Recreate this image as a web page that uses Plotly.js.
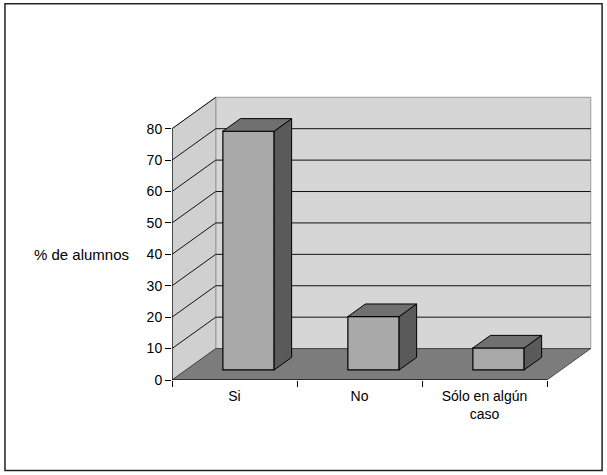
<!DOCTYPE html>
<html>
<head>
<meta charset="utf-8">
<script src="https://cdn.plot.ly/plotly-3.0.1.min.js"></script>
<style>
html,body{margin:0;padding:0;background:#fff;}
#chart{width:607px;height:475px;}
</style>
</head>
<body>
<div id="chart"></div>
<script>
// ---- data ----
var categories = ["Si", "No", "Sólo en algún<br>caso"];
var values = [76, 17, 7];
var yTicks = [0, 10, 20, 30, 40, 50, 60, 70, 80];
var yTitle = "% de alumnos";

// ---- 3D oblique geometry (in data units) ----
var DX = 0.35, DY = 10;       // depth offset of back wall
var YMAX = 80;
var D0 = 0.32, D1 = 0.72;     // bar depth span (fraction)
var HALF = 0.205;             // half bar width

var FONT = "Liberation Sans, Arial, sans-serif";
var n = categories.length;
var shapes = [];

// back wall
shapes.push({type:"rect", xref:"x", yref:"y", x0:DX, x1:n+DX, y0:DY, y1:YMAX+DY,
  fillcolor:"#d6d6d6", line:{color:"#8a8a8a", width:0.8}, layer:"below"});
// side wall
shapes.push({type:"path", xref:"x", yref:"y",
  path:"M0,0 L0,"+YMAX+" L"+DX+","+(YMAX+DY)+" L"+DX+","+DY+" Z",
  fillcolor:"#d0d0d0", line:{color:"#8a8a8a", width:0.8}, layer:"below"});
// floor
shapes.push({type:"path", xref:"x", yref:"y",
  path:"M0,0 L"+n+",0 L"+(n+DX)+","+DY+" L"+DX+","+DY+" Z",
  fillcolor:"#7c7c7c", line:{color:"#333", width:0.8}, layer:"below"});
// gridlines
yTicks.forEach(function(v){
  if (v > 0 && v < YMAX) {
    shapes.push({type:"line", xref:"x", yref:"y", x0:DX, x1:n+DX, y0:v+DY, y1:v+DY,
      line:{color:"#111", width:1}, layer:"below"});
  }
  if (v > 0) {
    shapes.push({type:"line", xref:"x", yref:"y", x0:0, x1:DX, y0:v, y1:v+DY,
      line:{color:"#111", width:1}, layer:"below"});
  }
});
// front axis lines
shapes.push({type:"line", xref:"x", yref:"y", x0:0, x1:0, y0:0, y1:YMAX, line:{color:"#000", width:1.2}});
shapes.push({type:"line", xref:"x", yref:"y", x0:0, x1:n, y0:0, y1:0, line:{color:"#000", width:1.2}});
// outer border
shapes.push({type:"rect", xref:"paper", yref:"paper", x0:-0.393, x1:1.012, y0:-0.313, y1:1.302,
  line:{color:"#222", width:1.5}, fillcolor:"rgba(0,0,0,0)"});

// ---- bar traces ----
var traces = [];
values.forEach(function(v, i){
  var c = i + 0.5;
  var xl = c - HALF, xr = c + HALF;
  // side face
  traces.push({type:"scatter", mode:"lines", fill:"toself", fillcolor:"#5a5a5a",
    line:{color:"#000", width:1}, hoverinfo:"skip", showlegend:false,
    x:[xr+D0*DX, xr+D1*DX, xr+D1*DX, xr+D0*DX, xr+D0*DX],
    y:[D0*DY, D1*DY, D1*DY+v, D0*DY+v, D0*DY]});
  // top face
  traces.push({type:"scatter", mode:"lines", fill:"toself", fillcolor:"#707070",
    line:{color:"#000", width:1}, hoverinfo:"skip", showlegend:false,
    x:[xl+D0*DX, xr+D0*DX, xr+D1*DX, xl+D1*DX, xl+D0*DX],
    y:[D0*DY+v, D0*DY+v, D1*DY+v, D1*DY+v, D0*DY+v]});
});
// front faces as a real bar trace
traces.push({type:"bar", x:values.map(function(v,i){return i+0.5+D0*DX;}),
  y:values, base:values.map(function(){return D0*DY;}), width:2*HALF,
  marker:{color:"#a9a9a9", line:{color:"#000", width:1.2}},
  hoverinfo:"skip", showlegend:false});
// invisible trace to carry category tick labels on xaxis
traces.push({type:"scatter", mode:"markers", x:categories.map(function(c,i){return i+0.5;}),
  y:categories.map(function(){return 0;}), marker:{opacity:0}, hoverinfo:"skip", showlegend:false});

var layout = {
  width:607, height:475,
  margin:{l:172, r:10, t:91, b:95},
  paper_bgcolor:"#fff", plot_bgcolor:"rgba(0,0,0,0)",
  showlegend:false,
  font:{family:FONT, size:14, color:"#000"},
  xaxis:{range:[0, 3.4], tickvals:categories.map(function(c,i){return i+0.5;}),
    ticktext:categories, ticks:"", showgrid:false, zeroline:false, showline:false,
    ticklabelstandoff:6,
    tickfont:{family:FONT, size:14}, fixedrange:true},
  xaxis2:{range:[0, 3.4], overlaying:"x", side:"bottom", tickvals:[0,1,2,3],
    ticks:"outside", ticklen:6, tickcolor:"#000", showticklabels:false,
    showgrid:false, zeroline:false, showline:false},
  yaxis:{range:[0, 92], tickvals:yTicks, ticks:"outside", ticklen:6, tickcolor:"#000",
    showgrid:false, zeroline:false, showline:false, tickfont:{family:FONT, size:14}},
  shapes:shapes,
  annotations:[{text:yTitle, xref:"paper", yref:"y", x:-0.096, y:40, xanchor:"right",
    yanchor:"middle", showarrow:false, font:{family:FONT, size:15, color:"#000"}}]
};
// dummy trace for xaxis2
traces.push({type:"scatter", x:[0], y:[0], xaxis:"x2", mode:"markers",
  marker:{opacity:0}, hoverinfo:"skip", showlegend:false});

Plotly.newPlot("chart", traces, layout, {staticPlot:true});
</script>
</body>
</html>
